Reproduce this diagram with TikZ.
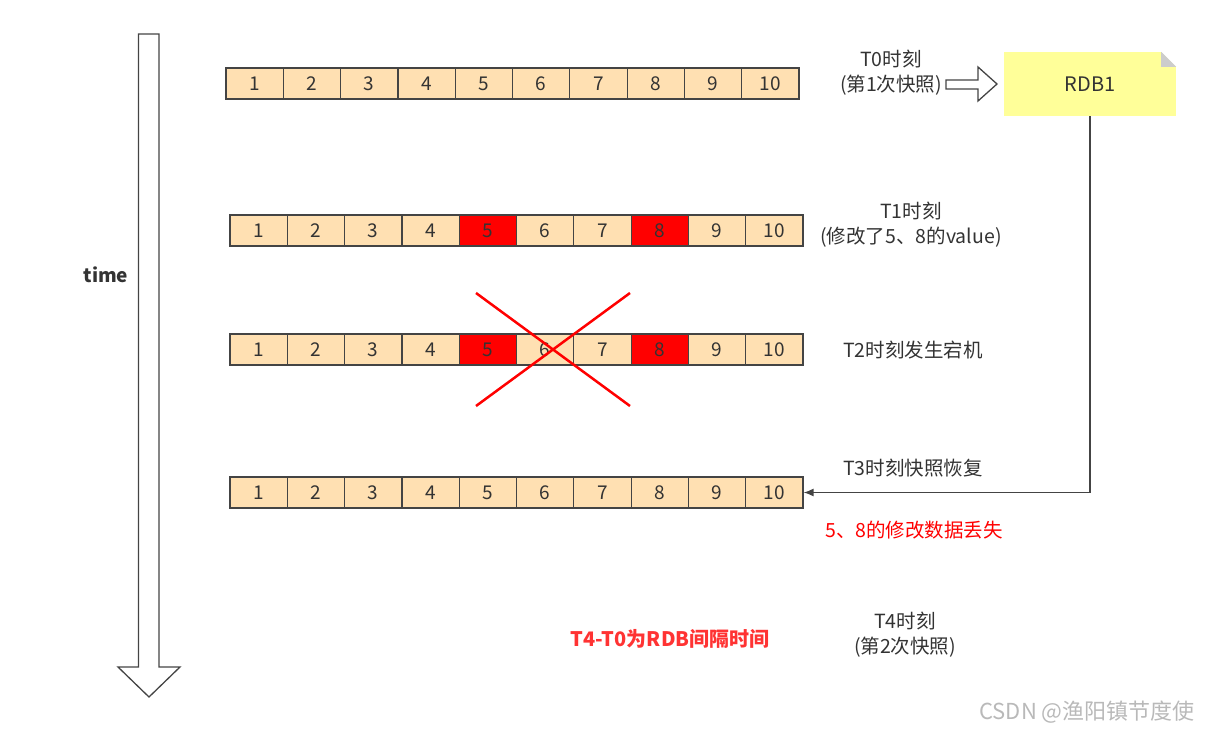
\documentclass[tikz,border=0pt]{standalone}
\usepackage{fontspec}
\setmainfont{Noto Sans CJK SC}
\usetikzlibrary{positioning,arrows.meta}
\definecolor{cellfill}{RGB}{255,224,178}
\definecolor{notefill}{RGB}{255,255,153}
\definecolor{txt}{RGB}{51,51,51}
\definecolor{edge}{RGB}{68,68,68}
\definecolor{lost}{RGB}{255,51,51}
\begin{document}
\begin{tikzpicture}[x=1pt,y=-1pt,
  cell/.style={draw=edge,line width=1.2pt,fill=cellfill,minimum width=57.3pt,minimum height=31pt,inner sep=0pt,text=txt,font=\fontsize{19}{19}\selectfont},
  lbl/.style={text=txt,align=center,inner sep=0pt,font=\fontsize{19.5}{25}\selectfont}]
\useasboundingbox (0,0) rectangle (1208,730);
\draw[edge,line width=1.3pt] (138.5,34) -- (159,34) -- (159,667) -- (180,667) -- (149,697) -- (118,667) -- (138.5,667) -- cycle;
\node[lbl,font=\fontsize{19}{25}\selectfont\bfseries] (time) at (106,275) {time};
\foreach \r/\x/\y in {1/226/83.5,2/230/230.5,3/230/349.5,4/230/492.5}
  \foreach \i in {1,...,10}
    \node[cell] (r\r-\i) at ({\x+(\i-0.5)*57.3},\y) {\i};
\foreach \r/\i in {2/5,2/8,3/5,3/8}
  \node[cell,fill=red] at (r\r-\i) {\i};
\draw[red,line width=2.5pt] (476,293) -- (630,406) (630,293) -- (476,406);
\node[fill=notefill,minimum width=172pt,minimum height=64pt,inner sep=0pt,text=txt,font=\fontsize{20}{25}\selectfont] (rdb) at (1090,84) {RDB1};
\fill[white] ([xshift=-15pt]rdb.north east) -- (rdb.north east) -- ([yshift=-15pt]rdb.north east) -- cycle;
\fill[gray!40] ([xshift=-15pt]rdb.north east) -- ([yshift=-15pt]rdb.north east) -- ([xshift=-15pt,yshift=-15pt]rdb.north east) -- cycle;
\draw[edge,line width=1.3pt,-{Latex[length=10pt,width=8pt]}] (rdb.south) |- (r4-10.east);
\draw[edge,line width=1.3pt] (946,80) -- (978,80) -- (978,67) -- (997,84) -- (978,101) -- (978,89) -- (946,89) -- cycle;
\node[lbl] (t0) at (891,73) {T0时刻\\(第1次快照)};
\node[lbl] (t1) at (911,225) {T1时刻\\(修改了5、8的value)};
\node[lbl] (t2) at (913,350) {T2时刻发生宕机};
\node[lbl] (t3) at (913,468) {T3时刻快照恢复};
\node[lbl,text=red] (loss) at (914,530) {5、8的修改数据丢失};
\node[lbl] (t4) at (905,635) {T4时刻\\(第2次快照)};
\node[lbl,text=lost,font=\fontsize{20}{25}\selectfont\bfseries] (gap) at (670,639) {T4-T0为RDB间隔时间};
\node[lbl,text=gray!55,font=\fontsize{22}{25}\selectfont] (mark) at (1087,712) {CSDN @渔阳镇节度使};
\end{tikzpicture}
\end{document}
